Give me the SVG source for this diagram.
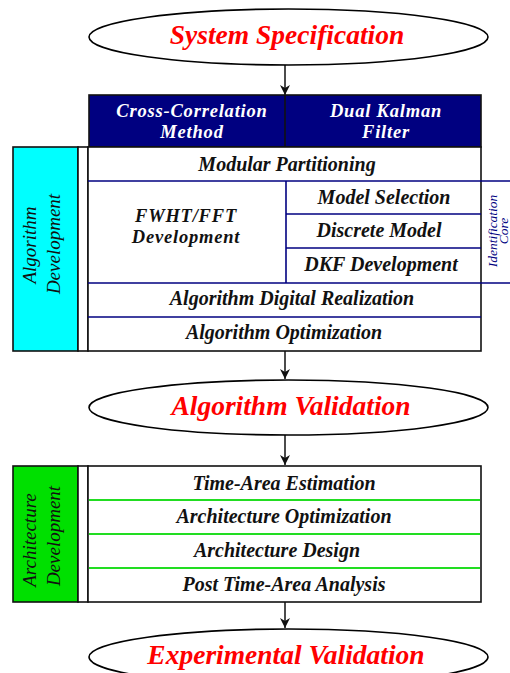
<svg xmlns="http://www.w3.org/2000/svg" width="510" height="673" viewBox="0 0 510 673">
  <style>
    .oval { fill: #ffffff; stroke: #000000; stroke-width: 1.6; }
    .stage { font-family: "Liberation Serif", "Times New Roman", serif; font-weight: bold; font-style: italic; font-size: 27.5px; fill: #ff0000; text-anchor: middle; }
    .box { fill: #ffffff; stroke: #111111; stroke-width: 1.6; }
    .hdr { fill: #000080; stroke: #111111; stroke-width: 1.6; }
    .hdrtxt { font-family: "Liberation Serif", "Times New Roman", serif; font-weight: bold; font-style: italic; font-size: 18.5px; letter-spacing: 0.8px; fill: #ffffff; text-anchor: middle; }
    .step { font-family: "Liberation Serif", "Times New Roman", serif; font-weight: bold; font-style: italic; font-size: 20px; fill: #111111; text-anchor: middle; }
    .pair { font-family: "Liberation Serif", "Times New Roman", serif; font-weight: bold; font-style: italic; font-size: 18.5px; letter-spacing: 0.8px; fill: #111111; text-anchor: middle; }
    .side { font-family: "Liberation Serif", "Times New Roman", serif; font-style: italic; font-size: 19px; fill: #111111; text-anchor: middle; }
    .note { font-family: "Liberation Serif", "Times New Roman", serif; font-style: italic; font-size: 13.5px; fill: #000080; text-anchor: middle; }
    .navy { stroke: #000080; stroke-width: 1.6; fill: none; }
    .grn { stroke: #22dd22; stroke-width: 2; fill: none; }
    .flow { stroke: #111111; stroke-width: 1.5; fill: none; marker-end: url(#head); }
  </style>
  <defs>
    <marker id="head" viewBox="0 0 10 10" refX="10" refY="5" markerWidth="10" markerHeight="10" markerUnits="userSpaceOnUse" orient="auto">
      <path d="M0,0 L10,5 L0,10 L3,5 Z" fill="#111111"/>
    </marker>
  </defs>

  <!-- flow arrows between stages -->
  <g id="connectors">
    <line class="flow" x1="285" y1="65" x2="285" y2="95"/>
    <line class="flow" x1="285" y1="351" x2="285" y2="379"/>
    <line class="flow" x1="285" y1="435" x2="285" y2="465"/>
    <line class="flow" x1="285" y1="602" x2="285" y2="628"/>
  </g>

  <g id="system-specification">
    <ellipse class="oval" cx="288.5" cy="37" rx="199.5" ry="28"/>
    <text class="stage" x="287" y="44">System Specification</text>
  </g>

  <g id="methods-header">
    <rect class="hdr" x="89" y="95" width="392" height="52"/>
    <line x1="285" y1="95" x2="285" y2="147" stroke="#111111" stroke-width="1.6"/>
    <text class="hdrtxt" x="192" y="116.5">Cross-Correlation</text>
    <text class="hdrtxt" x="192" y="137.5">Method</text>
    <text class="hdrtxt" x="386" y="116.5">Dual Kalman</text>
    <text class="hdrtxt" x="386" y="137.5">Filter</text>
  </g>

  <g id="algorithm-development">
    <rect x="13" y="147" width="65" height="204" fill="#00ffff" stroke="#111111" stroke-width="1.6"/>
    <rect class="box" x="78" y="147" width="10" height="204"/>
    <rect class="box" x="88" y="147" width="393" height="204"/>
    <text class="side" transform="translate(36,245) rotate(-90)">Algorithm</text>
    <text class="side" transform="translate(60,244) rotate(-90)">Development</text>

    <line class="navy" x1="88" y1="181" x2="510" y2="181"/>
    <line class="navy" x1="88" y1="283" x2="510" y2="283"/>
    <line class="navy" x1="286" y1="181" x2="286" y2="283"/>
    <line class="navy" x1="286" y1="214" x2="481" y2="214"/>
    <line class="navy" x1="286" y1="248" x2="481" y2="248"/>
    <line class="navy" x1="88" y1="317" x2="481" y2="317"/>

    <text class="step" x="287" y="171">Modular Partitioning</text>
    <text class="pair" x="186" y="222">FWHT/FFT</text>
    <text class="pair" x="186" y="243">Development</text>
    <text class="step" x="384" y="204">Model Selection</text>
    <text class="step" x="379" y="237">Discrete Model</text>
    <text class="step" x="381" y="271">DKF Development</text>
    <text class="step" x="292" y="305">Algorithm Digital Realization</text>
    <text class="step" x="284" y="339">Algorithm Optimization</text>

    <text class="note" transform="translate(497,231) rotate(-90)">Identification</text>
    <text class="note" transform="translate(508,231) rotate(-90)">Core</text>
  </g>

  <g id="algorithm-validation">
    <ellipse class="oval" cx="288.5" cy="407.5" rx="199.5" ry="27.5"/>
    <text class="stage" x="291" y="415">Algorithm Validation</text>
  </g>

  <g id="architecture-development">
    <rect x="13" y="466" width="65" height="136" fill="#00e000" stroke="#111111" stroke-width="1.6"/>
    <rect class="box" x="78" y="466" width="10" height="136"/>
    <rect class="box" x="88" y="466" width="393" height="136"/>
    <text class="side" transform="translate(36,540) rotate(-90)">Architecture</text>
    <text class="side" transform="translate(60,536) rotate(-90)">Development</text>

    <line class="grn" x1="89" y1="500" x2="480" y2="500"/>
    <line class="grn" x1="89" y1="534" x2="480" y2="534"/>
    <line class="grn" x1="89" y1="568" x2="480" y2="568"/>

    <text class="step" x="284" y="490">Time-Area Estimation</text>
    <text class="step" x="284" y="523">Architecture Optimization</text>
    <text class="step" x="277" y="557">Architecture Design</text>
    <text class="step" x="284" y="591">Post Time-Area Analysis</text>
  </g>

  <g id="experimental-validation">
    <ellipse class="oval" cx="288.5" cy="657" rx="199.5" ry="28"/>
    <text class="stage" x="286" y="664">Experimental Validation</text>
  </g>
</svg>
